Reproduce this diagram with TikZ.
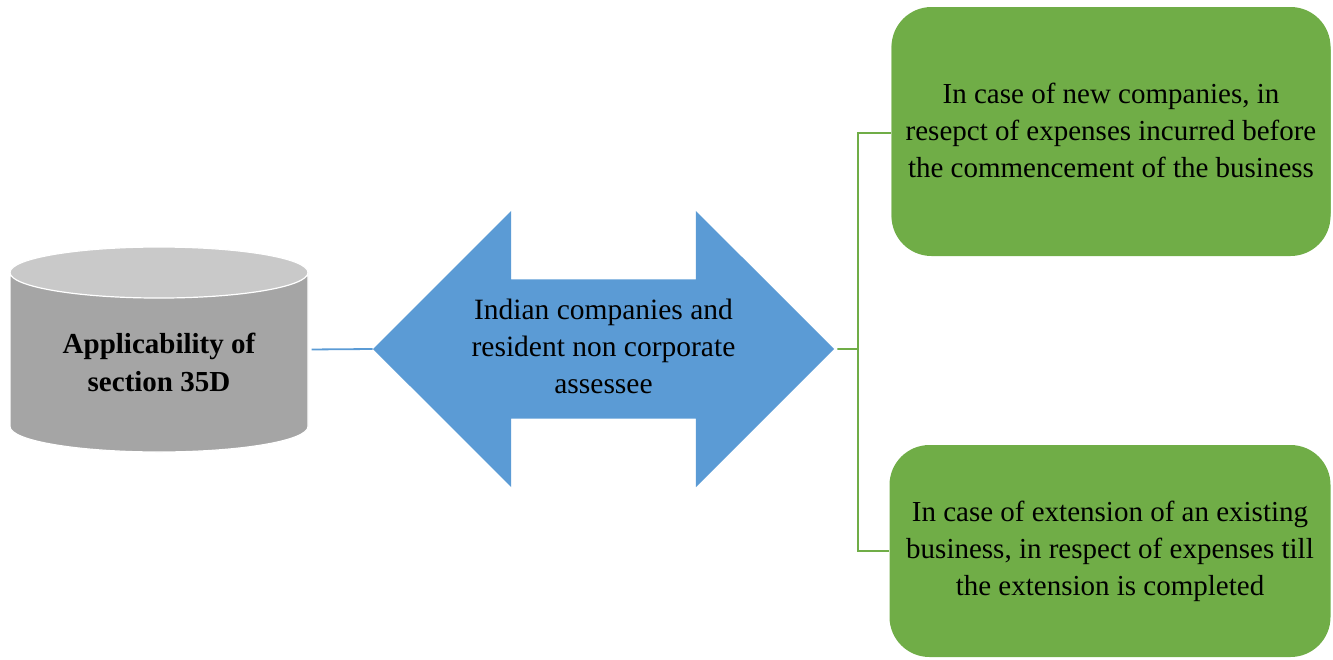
\documentclass[tikz,border=0pt]{standalone}
\usepackage{fontspec}
\setmainfont{Liberation Serif}
\usetikzlibrary{arrows.meta,positioning,shapes.geometric,shapes.arrows}
\definecolor{Steel}{HTML}{5B9BD5}
\definecolor{Leaf}{HTML}{70AD47}
\definecolor{Stone}{HTML}{A5A5A5}
\definecolor{StoneTop}{HTML}{C9C9C9}
\definecolor{Ink}{HTML}{000000}
\tikzset{
  drum/.style={cylinder,shape border rotate=90,aspect=0.265,draw=white,line width=1.2pt,cylinder uses custom fill,cylinder body fill=Stone,cylinder end fill=StoneTop,minimum width=298pt,minimum height=205pt,inner sep=0pt,align=center,font=\fontsize{29}{38}\selectfont\bfseries,text=Ink},
  span/.style={double arrow,fill=Steel,double arrow tip angle=90,double arrow head extend=68.5pt,minimum height=461pt,inner sep=0pt},
  spantext/.style={align=center,font=\fontsize{29.5}{37}\selectfont,text=Ink,inner sep=0pt},
  card/.style={fill=Leaf,rounded corners=40pt,minimum width=439pt,minimum height=246pt,align=center,font=\fontsize{29}{37}\selectfont,text=Ink,inner sep=0pt},
  link/.style={draw=Steel,line width=1.8pt},
  branch/.style={draw=Leaf,line width=1.8pt}
}
\begin{document}
\begin{tikzpicture}[x=1pt,y=-1pt]
  \useasboundingbox (0,0) rectangle (1333,659);
  \node[drum,anchor=shape center] (applic) at (159,349.5) {Applicability of\\section 35D};
  \node[span] (scope) at (603.5,349) {\rule{0pt}{139pt}};
  \node[spantext,yshift=3pt] (scopetext) at (scope.center) {Indian companies and\\resident non corporate\\assessee};
  \node[card] (newco) at (1111,133) {};
  \node[card,yshift=3pt] (newcotext) at (newco.center) {In case of new companies, in\\resepct of expenses incurred before\\the commencement of the business};
  \node[card,minimum width=441pt,minimum height=212pt] (extend) at (1110,551) {In case of extension of an existing\\business, in respect of expenses till\\the extension is completed};
  \coordinate (fork) at (858,349);
  \draw[link,shorten <=3pt] (applic.east |- applic.shape center) -- (scope.west);
  \draw[branch,shorten <=3pt] (scope.east) -- (fork);
  \draw[branch] (fork) |- (newco.west);
  \draw[branch] (fork) |- (extend.west);
\end{tikzpicture}
\end{document}
